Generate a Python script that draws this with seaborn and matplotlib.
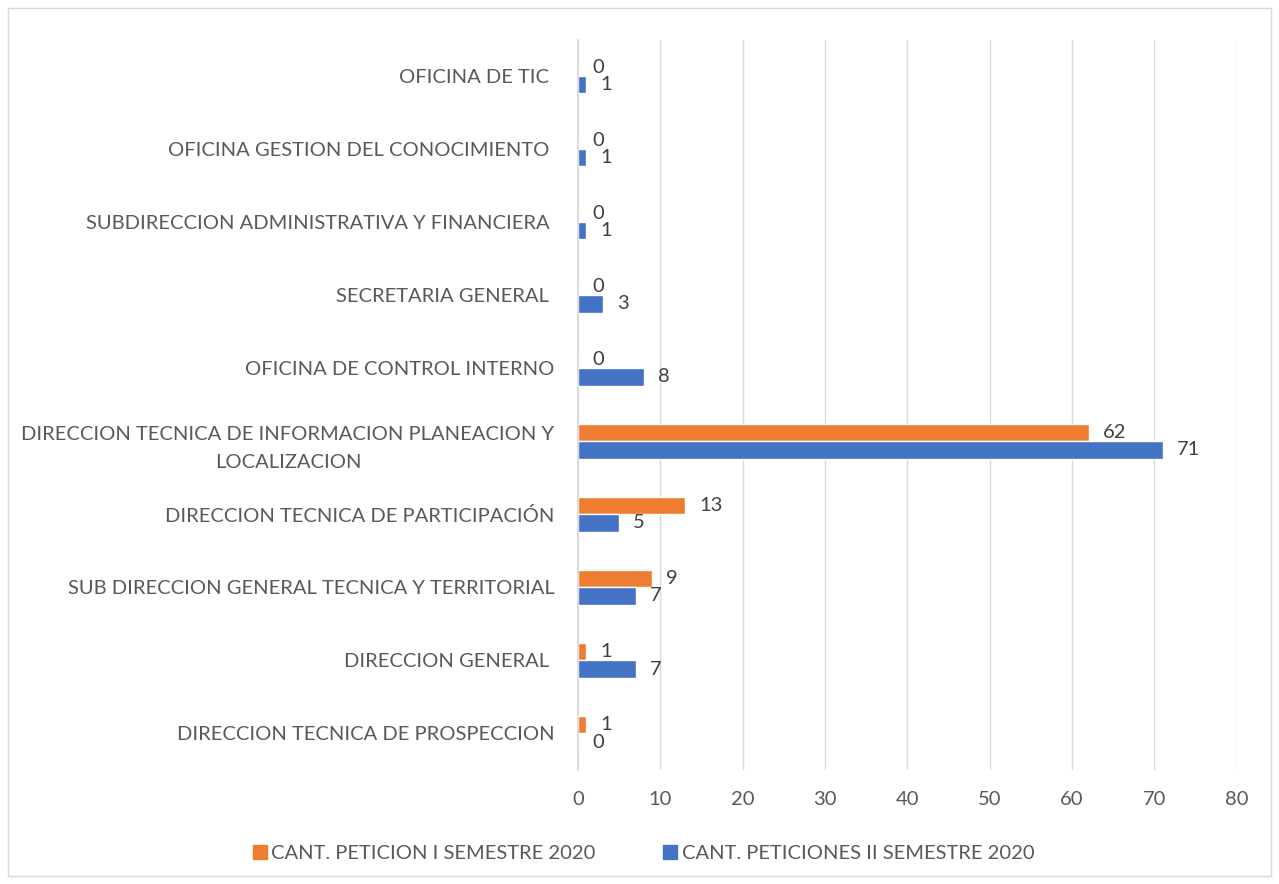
import matplotlib
matplotlib.use("Agg")
import matplotlib.pyplot as plt
import pandas as pd
import seaborn as sns
from matplotlib.lines import Line2D
from matplotlib.patches import Rectangle

# categories, top to bottom as drawn
areas = [
    "OFICINA DE TIC ",
    "OFICINA GESTION DEL CONOCIMIENTO ",
    "SUBDIRECCION ADMINISTRATIVA Y FINANCIERA ",
    "SECRETARIA GENERAL ",
    "OFICINA DE CONTROL INTERNO",
    "DIRECCION TECNICA DE INFORMACION PLANEACION Y\nLOCALIZACION",
    "DIRECCION TECNICA DE PARTICIPACIÓN",
    "SUB DIRECCION GENERAL TECNICA Y TERRITORIAL",
    "DIRECCION GENERAL ",
    "DIRECCION TECNICA DE PROSPECCION",
]
sem1 = [0, 0, 0, 0, 0, 62, 13, 9, 1, 1]
sem2 = [1, 1, 1, 3, 8, 71, 5, 7, 7, 0]

series = ["CANT. PETICION I SEMESTRE 2020", "CANT. PETICIONES II SEMESTRE 2020"]
colors = ["#ED7D31", "#4472C4"]
x_ticks = [0, 10, 20, 30, 40, 50, 60, 70, 80]

df = pd.DataFrame({
    "area": areas * 2,
    "valor": sem1 + sem2,
    "serie": [series[0]] * len(areas) + [series[1]] * len(areas),
})

sns.set_theme(style="white")
plt.rcParams["font.family"] = ["Lato", "DejaVu Sans"]

fig = plt.figure(figsize=(12.79, 8.84), dpi=100)
ax = fig.add_axes([0.452, 0.129, 0.515, 0.826])

sns.barplot(
    data=df, y="area", x="valor", hue="serie", order=areas, hue_order=series,
    palette=colors, orient="h", width=0.47, gap=0, saturation=1, ax=ax,
    legend=False,
)

for cont in ax.containers:
    ax.bar_label(cont, labels=[f"{int(v)}" for v in cont.datavalues],
                 padding=10, fontsize=14.5, color="#404040")

ax.set_xlim(0, 80)
ax.set_ylim(len(areas) - 0.5, -0.5)
ax.set_xticks(x_ticks)
ax.set_xlabel("")
ax.set_ylabel("")
ax.grid(axis="x", color="#d9d9d9", linewidth=1)
ax.set_axisbelow(True)
for s in ["top", "right", "bottom"]:
    ax.spines[s].set_visible(False)
ax.spines["left"].set_color("#d9d9d9")
ax.tick_params(axis="both", length=0, labelsize=14.5, labelcolor="#595959")
ax.tick_params(axis="y", pad=17)
ax.tick_params(axis="x", pad=15)
for lbl in ax.get_yticklabels():
    lbl.set_multialignment("center")
    lbl.set_linespacing(1.8)

handles = [Line2D([], [], marker="s", linestyle="", markersize=10,
                  markerfacecolor=c, markeredgecolor=c) for c in colors]
fig.legend(handles, series, loc="center", bbox_to_anchor=(0.503, 0.035),
           ncol=2, frameon=False, fontsize=14.5, labelcolor="#595959",
           handletextpad=0.2, columnspacing=3.4, handlelength=0.7)

fig.add_artist(Rectangle((0.006, 0.009), 0.988, 0.982, transform=fig.transFigure,
                         fill=False, edgecolor="#d9d9d9", linewidth=1))

fig.savefig("out.png", dpi=100, facecolor="white")
